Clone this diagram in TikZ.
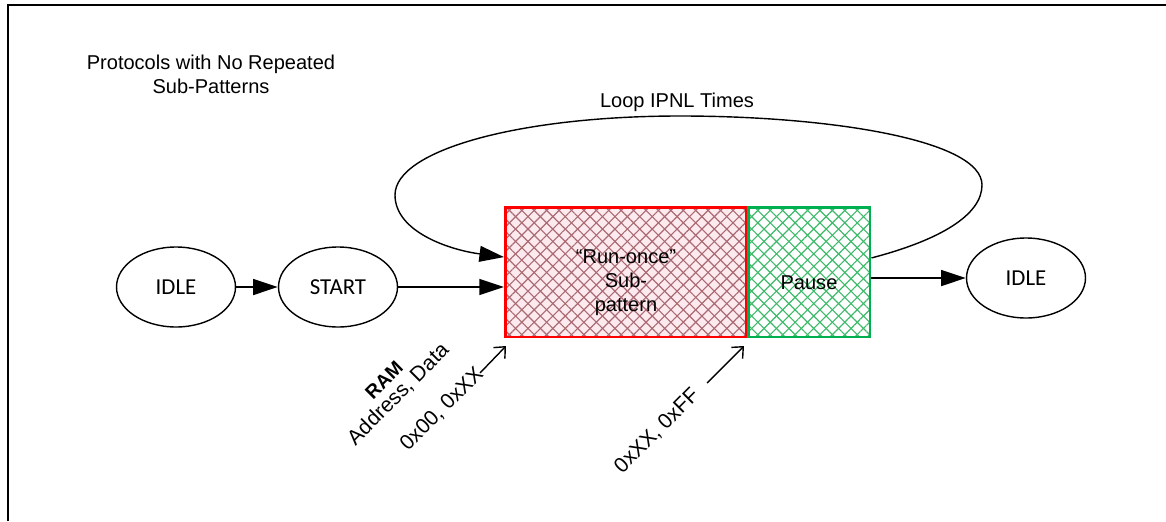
\documentclass[tikz,border=0pt]{standalone}
\usepackage{fontspec}
\setmainfont{Liberation Sans}
\newfontfamily\calfont{Carlito}
\usetikzlibrary{arrows.meta,patterns.meta,shapes.geometric}

\definecolor{runred}{RGB}{255,0,0}
\definecolor{runfill}{RGB}{252,234,238}
\definecolor{runhatch}{RGB}{170,105,115}
\definecolor{pausegreen}{RGB}{0,176,80}
\definecolor{pausehatch}{RGB}{60,185,105}

\tikzset{
  hatch/.style={preaction={pattern={Lines[angle=45,distance=5pt,line width=0.65pt]},pattern color=#1},
                preaction={pattern={Lines[angle=-45,distance=5pt,line width=0.65pt]},pattern color=#1}}
}

\begin{document}
\begin{tikzpicture}[x=0.02cm,y=-0.02cm,>={Triangle[length=14pt,width=9pt]},
  state/.style={draw,ellipse,line width=0.8pt,minimum width=2.38cm,minimum height=1.6cm,inner sep=0pt,font=\calfont\fontsize{13}{15}\selectfont},
  flow/.style={->,line width=1.1pt},
  hint/.style={-{Straight Barb[length=5pt,width=9pt]},line width=0.8pt},
  lbl/.style={font=\fontsize{11.4}{13.6}\selectfont,align=center},
  tilted/.style={font=\fontsize{12}{11.3}\selectfont,rotate=45,inner sep=0pt,align=center}]
\useasboundingbox (0,0) rectangle (1166,521);
\draw[line width=1.7pt] (8,521) -- (8,5) -- (1166,5);

\node[lbl] (title) at (211,74) {Protocols with No Repeated\\Sub-Patterns};
\node[state] (idle1) at (176,287) {IDLE};
\node[state] (start) at (338,287) {START};
\node[draw=runred,line width=1.7pt,preaction={fill=runfill},hatch=runhatch,minimum width=4.82cm,minimum height=2.6cm,
  label={[lbl,yshift=-6pt]center:“Run-once”\\Sub-\\pattern}] (run) at (626,272) {};
\node[draw=pausegreen,line width=1.7pt,hatch=pausehatch,minimum width=2.44cm,minimum height=2.6cm,
  label={[lbl,yshift=-6pt]center:Pause}] (pause) at (809,272) {};
\node[state] (idle2) at (1026,278) {IDLE};
\node[lbl] (loop) at (677,102) {Loop IPNL Times};

\draw[flow] (idle1) -- (start);
\draw[flow] (start.east) -- (run.west |- start.east);
\draw[flow] (pause.east |- idle2.west) -- (idle2.west);
% loop back over the pattern
\draw[->,line width=0.8pt] ([yshift=8pt]pause.east) .. controls (940,240) and (982,215) .. (982,185)
  .. controls (982,140) and (830,116) .. (680,116)
  .. controls (520,116) and (395,150) .. (395,195)
  .. controls (395,232) and (450,250) .. ([yshift=8.5pt]run.west);

\node[tilted] (ram) at (392,388) {\fontsize{11}{11.3}\selectfont\bfseries RAM\\Address, Data};
\node[tilted] (val1) at (442,409) {0x00, 0xXX};
\node[tilted] (val2) at (657,431) {0xXX, 0xFF};
\coordinate (p1) at (480,373);
\coordinate (t1) at (506,346);
\coordinate (p2) at (707,383);
\coordinate (t2) at (744,346);
\draw[hint] (p1) -- (t1);
\draw[hint] (p2) -- (t2);
\end{tikzpicture}
\end{document}
